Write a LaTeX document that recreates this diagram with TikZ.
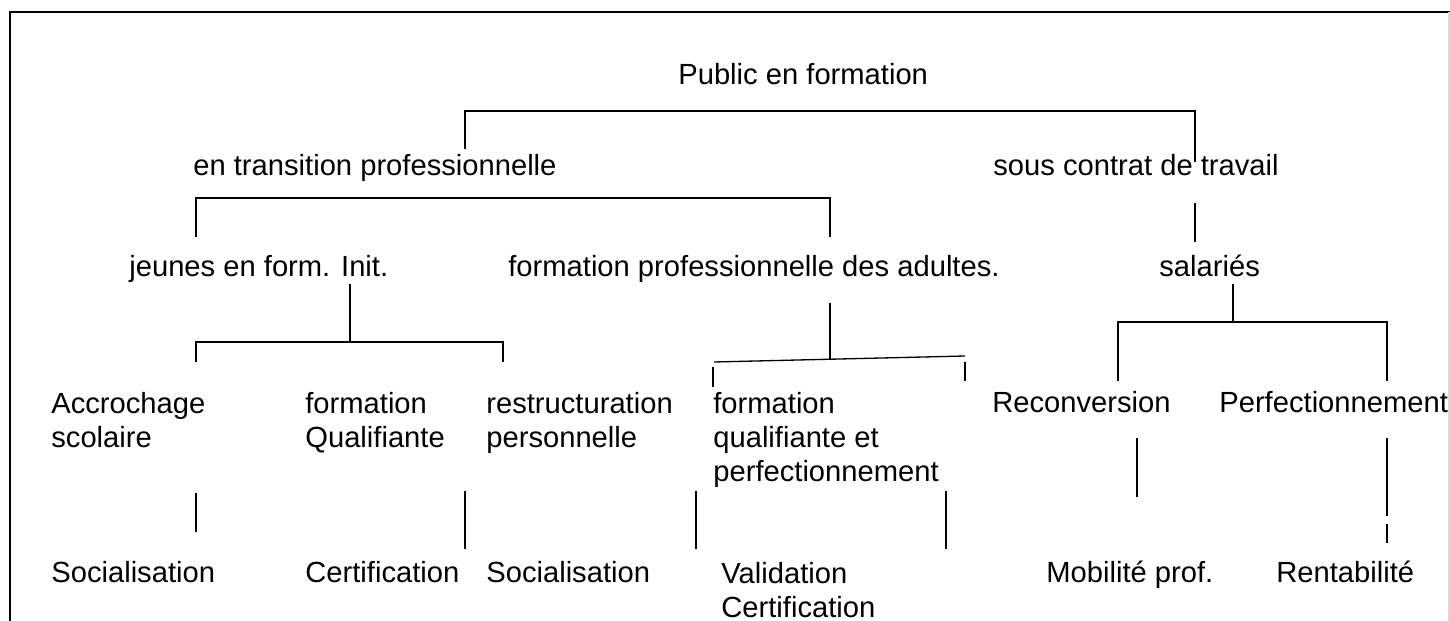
\documentclass[tikz,border=0pt]{standalone}
\usepackage{fontspec}
\setmainfont{Liberation Sans}
\usetikzlibrary{positioning}

\tikzset{
  lbl/.style={anchor=base west, inner sep=0pt, align=left,
    font=\fontsize{16.6pt}{19.3pt}\selectfont},
  conn/.style={line width=0.75pt},
}

\begin{document}
\begin{tikzpicture}[x=0.02cm, y=-0.02cm]
\useasboundingbox (0,0) rectangle (1450,621);
% cadre
\draw[line width=1.1pt] (10,621) -- (10,12) -- (1450,12);
\draw[gray!30, line width=0.6pt] (1449,12) -- (1449,621);

% niveaux (base = derniere ligne)
\node[lbl] (pub) at (678,85) {Public en formation};
\node[lbl] (trans) at (193,176) {en transition professionnelle};
\node[lbl] (sous) at (993,176) {sous contrat de travail};
\node[lbl] (jeunes) at (129,277) {jeunes en form. Init.};
\node[lbl] (adultes) at (508,277) {formation professionnelle des adultes.};
\node[lbl] (sal) at (1159,277) {salariés};
\node[lbl] (accr) at (51,447) {Accrochage\\scolaire};
\node[lbl] (fqual) at (305,447) {formation\\Qualifiante};
\node[lbl] (restr) at (486,447) {restructuration\\personnelle};
\node[lbl] (fqp) at (713,481) {formation\\qualifiante et\\perfectionnement};
\node[lbl] (recon) at (992,413) {Reconversion};
\node[lbl] (perf) at (1219,413) {Perfectionnement};
\node[lbl] (soc1) at (51,582) {Socialisation};
\node[lbl] (cert) at (305,582) {Certification};
\node[lbl] (soc2) at (486,582) {Socialisation};
\node[lbl] (valid) at (721,617) {Validation\\Certification};
\node[lbl] (mob) at (1046,582) {Mobilité prof.};
\node[lbl] (rent) at (1276,582) {Rentabilité};

% points d'accroche
\coordinate (pub-l) at (465,149);
\coordinate (pub-r) at (1195,162);
\coordinate (trans-l) at (196,237);
\coordinate (trans-r) at (830,237);
\coordinate (sous-t) at (1195,203);
\coordinate (sous-b) at (1195,242);
\coordinate (jeunes-t) at (350,284);
\coordinate (jeunes-m) at (350,342);
\coordinate (jeunes-l) at (196,362);
\coordinate (jeunes-r) at (503,362);
\coordinate (adultes-t) at (830,303);
\coordinate (adultes-m) at (830,360);
\coordinate (adultes-l) at (714,362);
\coordinate (adultes-r) at (965,356);
\coordinate (sal-t) at (1233,284);
\coordinate (sal-m) at (1233,322);
\coordinate (sal-l) at (1118,381);
\coordinate (sal-r) at (1387,381);

% arbre
\draw[conn] (pub-l) |- (pub-r |- 0,111) -- (pub-r);
\draw[conn] (trans-l) |- (trans-r |- 0,198) -- (trans-r);
\draw[conn] (sous-t) -- (sous-b);
\draw[conn] (jeunes-t) -- (jeunes-m);
\draw[conn] (jeunes-l) |- (jeunes-r |- jeunes-m) -- (jeunes-r);
\draw[conn] (adultes-t) -- (adultes-m);
\draw[conn] (adultes-l) -- (adultes-r);
\draw[conn] (713,367) -- (713,387);
\draw[conn] (965,362) -- (965,381);
\draw[conn] (sal-t) -- (sal-m);
\draw[conn] (sal-l) |- (sal-r |- sal-m) -- (sal-r);

% vers les finalites
\draw[conn] (196,493) -- (196,532);
\draw[conn] (465,491) -- (465,549);
\draw[conn] (696,491) -- (696,549);
\draw[conn] (946,491) -- (946,549);
\draw[conn] (1137,438) -- (1137,497);
\draw[conn] (1387,438) -- (1387,516);
\draw[conn] (1387,524) -- (1387,543);
\end{tikzpicture}
\end{document}
